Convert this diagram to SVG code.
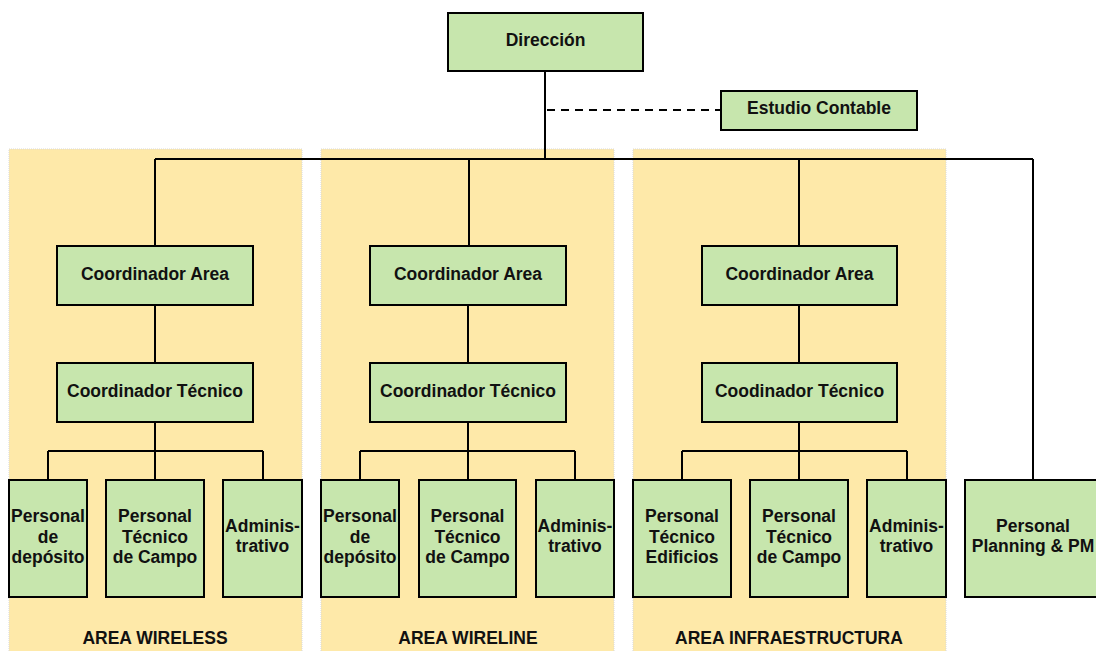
<svg xmlns="http://www.w3.org/2000/svg" width="1096" height="651" viewBox="0 0 1096 651">
<style>
.panel{fill:#fee9a9;stroke:#d9d9d9;stroke-width:1;stroke-dasharray:1 1}
.node{fill:#c7e6ad;stroke:#000;stroke-width:2}
.t{font-family:"Liberation Sans",Arial,sans-serif;font-weight:bold;font-size:17.5px;fill:#111;text-anchor:middle}
.c{fill:none;stroke:#000;stroke-width:2}
.d{fill:none;stroke:#000;stroke-width:2;stroke-dasharray:8 6}
</style>
<rect width="1096" height="651" fill="#fff"/>
<g id="area-wireless"><rect class="panel" x="9" y="149" width="293" height="510"/><text class="t" x="155" y="644">AREA WIRELESS</text></g>
<g id="area-wireline"><rect class="panel" x="321" y="149" width="293" height="510"/><text class="t" x="468" y="644">AREA WIRELINE</text></g>
<g id="area-infra"><rect class="panel" x="633" y="149" width="313" height="510"/><text class="t" x="789" y="644">AREA INFRAESTRUCTURA</text></g>
<g id="connectors">
<path class="c" d="M545 71V159M155 159H1033M155 159V246M469 159V246M799 159V246M1033 159V480"/>
<path class="d" d="M547 110H721"/>
<path class="c" d="M155 305V363M155 422V451M48 451H263M48 451V480M155 451V480M263 451V480"/>
<path class="c" d="M468 305V363M468 422V451M360 451H575M360 451V480M468 451V480M575 451V480"/>
<path class="c" d="M799 305V363M799 422V451M682 451H907M682 451V480M799 451V480M907 451V480"/>
</g>
<g id="direccion"><rect class="node" x="448" y="13" width="195" height="58"/><text class="t" x="545.5" y="46">Dirección</text></g>
<g id="estudio-contable"><rect class="node" x="721" y="91" width="196" height="39"/><text class="t" x="819" y="114">Estudio Contable</text></g>
<g id="w-coord-area"><rect class="node" x="57" y="246" width="196" height="59"/><text class="t" x="155" y="280">Coordinador Area</text></g>
<g id="w-coord-tec"><rect class="node" x="57" y="363" width="196" height="59"/><text class="t" x="155" y="397">Coordinador Técnico</text></g>
<g id="w-deposito"><rect class="node" x="9" y="480" width="78" height="117"/><text class="t" x="48" y="522">Personal<tspan x="48" y="543">de</tspan><tspan x="48" y="563">depósito</tspan></text></g>
<g id="w-campo"><rect class="node" x="106" y="480" width="98" height="117"/><text class="t" x="155" y="522">Personal<tspan x="155" y="543">Técnico</tspan><tspan x="155" y="563">de Campo</tspan></text></g>
<g id="w-admin"><rect class="node" x="223" y="480" width="79" height="117"/><text class="t" x="262.5" y="532">Adminis-<tspan x="262.5" y="552">trativo</tspan></text></g>
<g id="l-coord-area"><rect class="node" x="370" y="246" width="196" height="59"/><text class="t" x="468" y="280">Coordinador Area</text></g>
<g id="l-coord-tec"><rect class="node" x="370" y="363" width="196" height="59"/><text class="t" x="468" y="397">Coordinador Técnico</text></g>
<g id="l-deposito"><rect class="node" x="321" y="480" width="78" height="117"/><text class="t" x="360" y="522">Personal<tspan x="360" y="543">de</tspan><tspan x="360" y="563">depósito</tspan></text></g>
<g id="l-campo"><rect class="node" x="419" y="480" width="97" height="117"/><text class="t" x="467.5" y="522">Personal<tspan x="467.5" y="543">Técnico</tspan><tspan x="467.5" y="563">de Campo</tspan></text></g>
<g id="l-admin"><rect class="node" x="536" y="480" width="78" height="117"/><text class="t" x="575" y="532">Adminis-<tspan x="575" y="552">trativo</tspan></text></g>
<g id="i-coord-area"><rect class="node" x="702" y="246" width="195" height="59"/><text class="t" x="799.5" y="280">Coordinador Area</text></g>
<g id="i-coord-tec"><rect class="node" x="702" y="363" width="195" height="59"/><text class="t" x="799.5" y="397">Coodinador Técnico</text></g>
<g id="i-edificios"><rect class="node" x="633" y="480" width="98" height="117"/><text class="t" x="682" y="522">Personal<tspan x="682" y="543">Técnico</tspan><tspan x="682" y="563">Edificios</tspan></text></g>
<g id="i-campo"><rect class="node" x="750" y="480" width="98" height="117"/><text class="t" x="799" y="522">Personal<tspan x="799" y="543">Técnico</tspan><tspan x="799" y="563">de Campo</tspan></text></g>
<g id="i-admin"><rect class="node" x="867" y="480" width="79" height="117"/><text class="t" x="906.5" y="532">Adminis-<tspan x="906.5" y="552">trativo</tspan></text></g>
<g id="planning"><rect class="node" x="965" y="480" width="136" height="117"/><text class="t" x="1033" y="532">Personal<tspan x="1033" y="552">Planning &amp; PM</tspan></text></g>
</svg>
